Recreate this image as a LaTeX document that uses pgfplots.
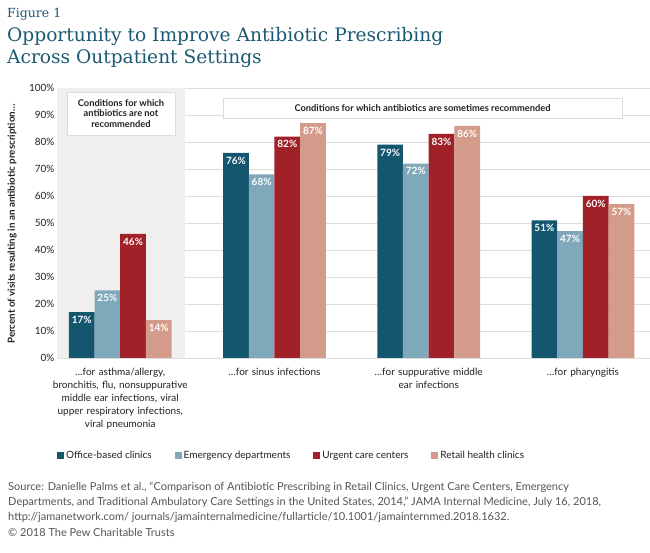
\documentclass[border=0pt]{standalone}
\usepackage{fontspec}
\setmainfont{Lato}
\newfontfamily\titlefont{DejaVu Serif}
\usepackage{pgfplots}
\pgfplotsset{compat=1.18}
\definecolor{cOffice}{HTML}{15566F}
\definecolor{cEmerg}{HTML}{7FA8BA}
\definecolor{cUrgent}{HTML}{A02127}
\definecolor{cRetail}{HTML}{D39C8A}
\definecolor{titlec}{HTML}{1B5A72}
\definecolor{gridc}{HTML}{DDDDDD}
\definecolor{shadec}{HTML}{EFEFEF}
\definecolor{srcc}{HTML}{555555}
\definecolor{txtc}{HTML}{222222}
\begin{document}
\begin{tikzpicture}[x=1pt,y=1pt]
\path[use as bounding box, fill=white] (0,0) rectangle (650,553);
\node[anchor=west, inner sep=0pt, text=titlec, font=\titlefont\fontsize{12.5}{15}\selectfont] at (7,539) {Figure 1};
\node[anchor=north west, inner sep=0pt, align=left, text=titlec, font=\titlefont\fontsize{18.6}{22}\selectfont] at (7,526) {Opportunity to Improve Antibiotic Prescribing\\Across Outpatient Settings};
\begin{axis}[
  at={(57pt,195pt)}, anchor=south west,
  scale only axis, width=593pt, height=270pt,
  xmin=-0.41, xmax=3.435, ymin=0, ymax=100,
  ybar=0pt, bar width=25.7pt,
  axis line style={draw=none}, tick style={draw=none},
  ymajorgrids, grid style={gridc, line width=0.9pt},
  ytick={0,10,...,100},
  yticklabel={\pgfmathprintnumber{\tick}\%},
  /pgf/number format/assume math mode=true,
  yticklabel style={font=\fontsize{10}{12}\selectfont, text=txtc, xshift=1pt},
  xtick={0,1,2,3},
  xticklabels={{…for asthma/allergy,\\bronchitis, flu, nonsuppurative\\middle ear infections, viral\\upper respiratory infections,\\viral pneumonia},{…for sinus infections},{…for suppurative middle\\ear infections},{…for pharyngitis}},
  xticklabel style={align=center, text width=150pt, anchor=north, yshift=-2pt, font=\fontsize{10}{13}\selectfont, text=txtc},
  nodes near coords={\pgfmathprintnumber{\pgfplotspointmeta}\%},
  every node near coord/.append style={anchor=north, text=white, font=\bfseries\fontsize{10}{11}\selectfont, yshift=-0.5pt},
  legend columns=4,
  legend style={at={(0,-0.36)}, anchor=west, draw=none, fill=none, inner sep=0pt, font=\fontsize{10}{12}\selectfont, text=txtc,
    /tikz/every even column/.append style={column sep=21pt}},
  legend image code/.code={\fill[#1, draw=none] (0pt,-3.5pt) rectangle (7pt,3.5pt);},
]
\fill[shadec] (rel axis cs:0,0) rectangle (axis cs:0.42,100);
\addplot[fill=cOffice, draw=none] coordinates {(0,17) (1,76) (2,79) (3,51)};
\addplot[fill=cEmerg, draw=none] coordinates {(0,25) (1,68) (2,72) (3,47)};
\addplot[fill=cUrgent, draw=none] coordinates {(0,46) (1,82) (2,83) (3,60)};
\addplot[fill=cRetail, draw=none] coordinates {(0,14) (1,87) (2,86) (3,57)};
\legend{Office-based clinics, Emergency departments, Urgent care centers, Retail health clinics}
\draw[gridc, line width=0.9pt] (rel axis cs:0,0) -- (rel axis cs:1,0);
\end{axis}
\draw[fill=white, draw=gridc, line width=0.9pt] (67,461) rectangle (175,418);
\node[align=center, font=\bfseries\fontsize{9.3}{10.2}\selectfont, text=txtc] at (121,439.5) {Conditions for which\\antibiotics are not\\recommended};
\draw[fill=white, draw=gridc, line width=0.9pt] (223,455) rectangle (622,435);
\node[font=\bfseries\fontsize{9.3}{10}\selectfont, text=txtc] at (422.5,445) {Conditions for which antibiotics are sometimes recommended};
\node[rotate=90, font=\bfseries\fontsize{9.8}{11}\selectfont, text=txtc] at (12,329) {Percent of visits resulting in an antibiotic prescription…};
\begin{scope}[every node/.style={anchor=base west, inner sep=0pt, text=srcc, font=\fontsize{11}{13}\selectfont}]
\node at (8,62) {Source: Danielle Palms et al., “Comparison of Antibiotic Prescribing in Retail Clinics, Urgent Care Centers, Emergency};
\node at (8,47) {Departments, and Traditional Ambulatory Care Settings in the United States, 2014,” JAMA Internal Medicine, July 16, 2018,};
\node at (8,32.5) {http://jamanetwork.com/ journals/jamainternalmedicine/fullarticle/10.1001/jamainternmed.2018.1632.};
\node at (8,16.5) {© 2018 The Pew Charitable Trusts};
\end{scope}
\end{tikzpicture}
\end{document}
